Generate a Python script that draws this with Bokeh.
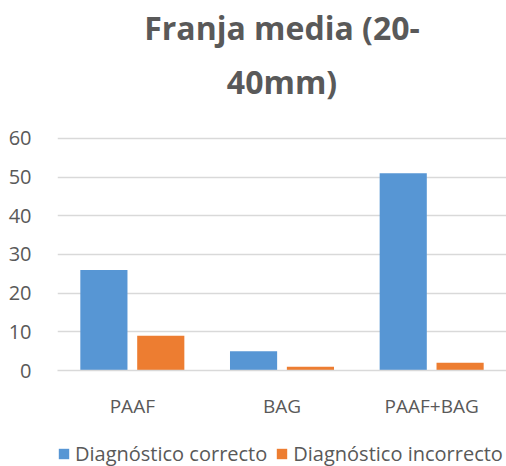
from bokeh.plotting import figure
from bokeh.layouts import column
from bokeh.models import ColumnDataSource, FactorRange, Title, Legend, LegendItem, FixedTicker
from bokeh.transform import dodge
from bokeh.embed import file_html
from bokeh.resources import INLINE

categories = ["PAAF", "BAG", "PAAF+BAG"]
correcto = [26, 5, 51]
incorrecto = [9, 1, 2]
series_names = ["Diagnóstico correcto", "Diagnóstico incorrecto"]
y_ticks = [0, 10, 20, 30, 40, 50, 60]

FONT = "Open Sans"
GREY = "#595959"
BLUE = "#5796d4"
ORANGE = "#ed7d31"

src = ColumnDataSource(dict(cat=categories, a=correcto, b=incorrecto))

p = figure(frame_width=449, frame_height=263, x_range=FactorRange(factors=categories, range_padding=0),
           y_range=(0, 68.0), output_backend="svg", toolbar_location=None,
           min_border_left=57, min_border_right=0, min_border_top=10, min_border_bottom=50)
p.outline_line_color = None

r1 = p.vbar(x=dodge("cat", -0.19, range=p.x_range), top="a", width=0.315, source=src,
            fill_color=BLUE, line_color=None)
r2 = p.vbar(x=dodge("cat", 0.19, range=p.x_range), top="b", width=0.315, source=src,
            fill_color=ORANGE, line_color=None)

p.add_layout(Title(text="40mm)", align="center", text_font=FONT, text_font_size="32px",
                   text_font_style="bold", text_color=GREY, standoff=10), "above")
p.add_layout(Title(text="Franja media (20-", align="center", text_font=FONT, text_font_size="32px",
                   text_font_style="bold", text_color=GREY, standoff=7), "above")

p.yaxis.ticker = FixedTicker(ticks=y_ticks)
p.yaxis.axis_line_color = None
p.yaxis.major_tick_line_color = None
p.yaxis.minor_tick_line_color = None
p.yaxis.major_label_text_font = FONT
p.yaxis.major_label_text_font_size = "20px"
p.yaxis.major_label_text_color = GREY
p.yaxis.major_label_standoff = 20

p.xaxis.axis_line_color = "#d9d9d9"
p.xaxis.axis_line_width = 1.5
p.xaxis.major_tick_line_color = None
p.xaxis.minor_tick_line_color = None
p.xaxis.major_label_text_font = FONT
p.xaxis.major_label_text_font_size = "19px"
p.xaxis.major_label_text_color = GREY
p.xaxis.major_label_standoff = 16

p.xgrid.grid_line_color = None
p.ygrid.ticker = FixedTicker(ticks=y_ticks)
p.ygrid.grid_line_color = "#d9d9d9"
p.ygrid.grid_line_width = 1.5

# legend strip below the chart (its bars lie outside its visible y range)
q = figure(width=506, height=46, x_range=FactorRange(factors=categories), y_range=(100, 101),
           output_backend="svg", toolbar_location=None, x_axis_location=None, y_axis_location=None,
           min_border_left=57, min_border_right=0, min_border_top=0, min_border_bottom=0)
q.outline_line_color = None
q.grid.visible = False
q1 = q.vbar(x="cat", top="a", width=0.3, source=src, fill_color=BLUE, line_color=None)
q2 = q.vbar(x="cat", top="b", width=0.3, source=src, fill_color=ORANGE, line_color=None)

legend = Legend(items=[LegendItem(label=series_names[0], renderers=[q1]),
                       LegendItem(label=series_names[1], renderers=[q2])],
                orientation="horizontal", location=(0, 0),
                label_text_font=FONT, label_text_font_size="20px", label_text_color=GREY,
                glyph_width=13, glyph_height=13, label_standoff=5, spacing=8,
                border_line_color=None, background_fill_alpha=0, padding=1, margin=0)
q.add_layout(legend, "center")

layout = column(p, q, spacing=0)
open("out.html", "w").write(file_html(layout, INLINE))
